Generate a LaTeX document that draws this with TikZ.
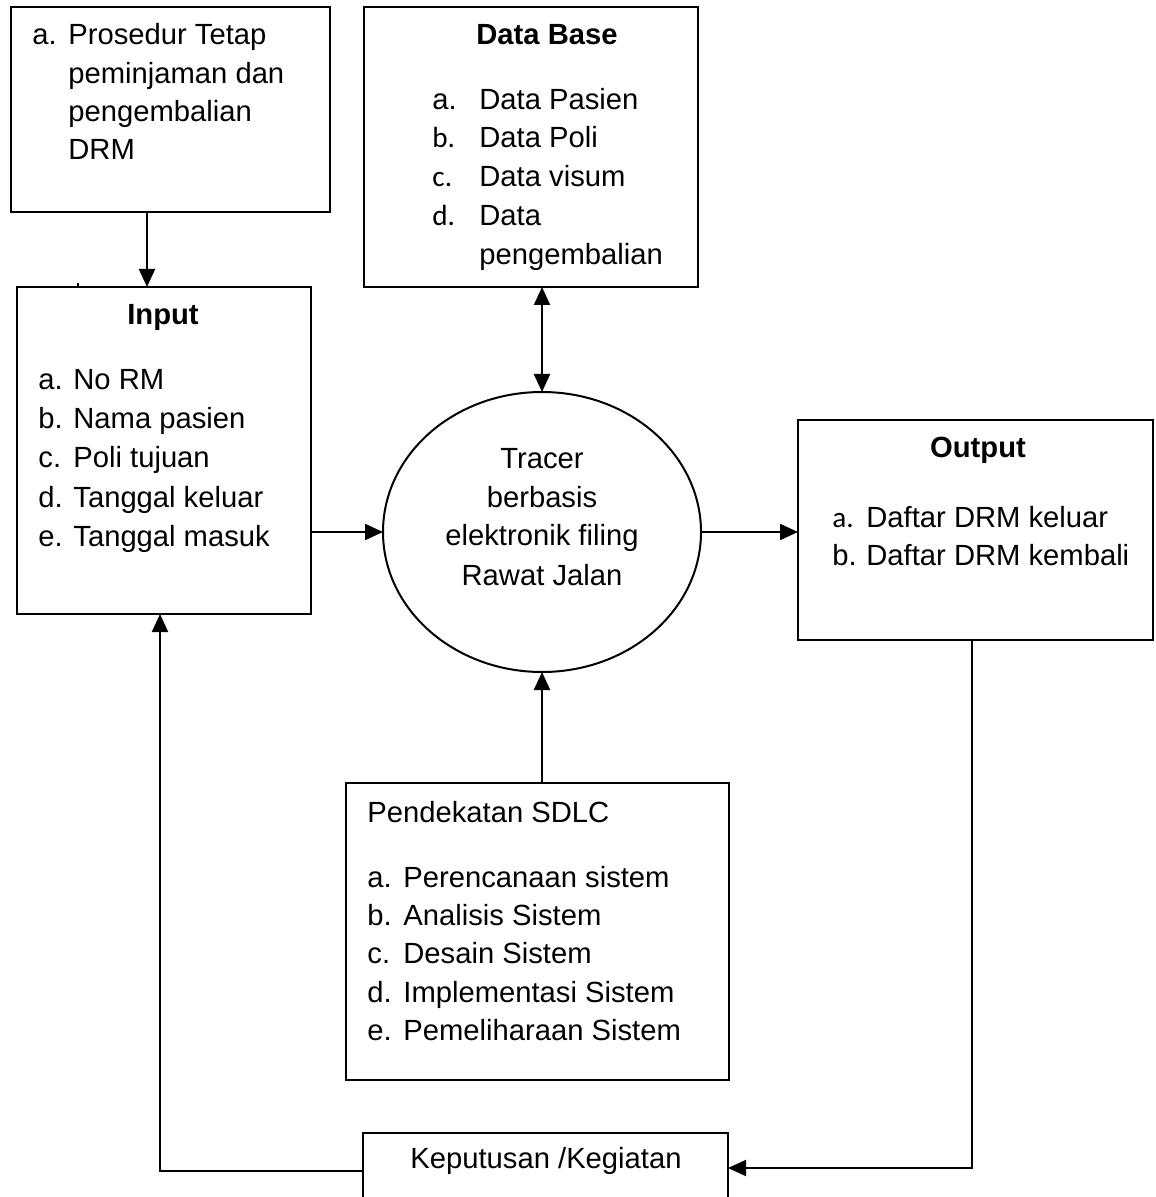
\documentclass[tikz,border=0pt]{standalone}
\usepackage{fontspec}
\setmainfont{Liberation Sans}
\newfontfamily\carl{Carlito}
\usetikzlibrary{arrows.meta,shapes.geometric}
\begin{document}
\begin{tikzpicture}[x=0.5pt,y=-0.5pt,
  box/.style={draw,line width=1pt,inner sep=0pt,outer sep=0pt,anchor=north west},
  t/.style={anchor=base west,inner sep=0pt,font=\fontsize{14.6}{18}\selectfont},
  tc/.style={anchor=base,inner sep=0pt,font=\fontsize{14.6}{18}\selectfont},
  tb/.style={anchor=base,inner sep=0pt,font=\fontsize{14.6}{18}\selectfont\bfseries},
  arr/.style={line width=1pt,-{Triangle[length=9pt,width=8pt]}},
  darr/.style={line width=1pt,{Triangle[length=9pt,width=8pt]}-{Triangle[length=9pt,width=8pt]}}]
\useasboundingbox (0,0) rectangle (1155,1197);
\clip (0,0) rectangle (1155,1197);
% boxes
\node[box,minimum width=159.5pt,minimum height=102.5pt] (proc) at (11,7) {};
\node[box,minimum width=167pt,minimum height=140pt] (db) at (364,7) {};
\node[box,minimum width=147pt,minimum height=163.5pt] (inp) at (17,287) {};
\node[box,minimum width=177.5pt,minimum height=110pt] (out) at (798,420) {};
\node[box,minimum width=191.5pt,minimum height=148.5pt] (sdlc) at (346,783) {};
\node[box,minimum width=182.5pt,minimum height=41pt] (kep) at (363,1133) {};
\node[draw,line width=1pt,ellipse,inner sep=0pt,outer sep=0pt,minimum width=159pt,minimum height=140pt] (ell) at (542,532) {};
% texts: prosedur
\node[t] (p0) at (32,45) {a.};
\node[t] (p1) at (68,45) {Prosedur Tetap};
\node[t] (p2) at (68,84) {peminjaman dan};
\node[t] (p3) at (68,122) {pengembalian};
\node[t] (p4) at (68,160) {DRM};
% data base
\node[tb] (dbt) at (547,45) {Data Base};
\node[t] (dba) at (432,110) {a.};
\node[t] (dbb) at (432,148) {\carl b.};
\node[t] (dbc) at (432,187) {\carl c.};
\node[t] (dbd) at (432,226) {\carl d.};
\node[t] (db1) at (479,110) {Data Pasien};
\node[t] (db2) at (479,148) {Data Poli};
\node[t] (db3) at (479,187) {Data visum};
\node[t] (db4) at (479,226) {Data};
\node[t] (db5) at (479,265) {pengembalian};
% input
\node[tb] (it) at (163,325) {Input};
\node[t] (ia) at (38,390) {a.};
\node[t] (ib) at (38,429) {b.};
\node[t] (ic) at (38,467) {c.};
\node[t] (id) at (38,507) {d.};
\node[t] (ie) at (38,546) {e.};
\node[t] (i1) at (73,390) {No RM};
\node[t] (i2) at (73,429) {Nama pasien};
\node[t] (i3) at (73,467) {Poli tujuan};
\node[t] (i4) at (73,507) {Tanggal keluar};
\node[t] (i5) at (73,546) {Tanggal masuk};
% circle text
\node[tc] (e1) at (542,468) {Tracer};
\node[tc] (e2) at (542,507) {berbasis};
\node[tc] (e3) at (542,545) {elektronik filing};
\node[tc] (e4) at (542,585) {Rawat Jalan};
% output
\node[tb] (ot) at (978,457) {Output};
\node[t] (oa) at (832,527) {\carl a.};
\node[t] (ob) at (832,565) {b.};
\node[t] (o1) at (866,527) {Daftar DRM keluar};
\node[t] (o2) at (866,565) {Daftar DRM kembali};
% sdlc
\node[t] (st) at (367,822) {Pendekatan SDLC};
\node[t] (sa) at (367,887) {a.};
\node[t] (sb) at (367,925) {b.};
\node[t] (sc) at (367,963) {c.};
\node[t] (sd) at (367,1002) {d.};
\node[t] (se) at (367,1040) {e.};
\node[t] (s1) at (403,887) {Perencanaan sistem};
\node[t] (s2) at (403,925) {Analisis Sistem};
\node[t] (s3) at (403,963) {Desain Sistem};
\node[t] (s4) at (403,1002) {Implementasi Sistem};
\node[t] (s5) at (403,1040) {Pemeliharaan Sistem};
% keputusan
\node[tc] (kt) at (546,1168) {Keputusan /Kegiatan};
% helper coordinates
\coordinate (cx1) at (147,0);
\coordinate (cx4) at (972,0);
\coordinate (cy5) at (0,1168);
\coordinate (cy6) at (0,1171);
\coordinate (cx7) at (160,0);
\coordinate (tk1) at (78,283);
\coordinate (tk2) at (78,288);
% connectors
\draw[arr] (proc.south -| cx1) -- (inp.north -| cx1);
\draw[darr] (db.south -| ell.north) -- (ell.north);
\draw[arr] (inp.east |- ell.west) -- (ell.west);
\draw[arr] (ell.east) -- (out.west |- ell.east);
\draw[arr] (sdlc.north -| ell.south) -- (ell.south);
\draw[arr] (out.south -| cx4) |- (kep.east |- cy5);
\draw[arr] (kep.west |- cy6) -| (inp.south -| cx7);
\draw[line width=1pt] (tk1) -- (tk2);
\end{tikzpicture}
\end{document}
